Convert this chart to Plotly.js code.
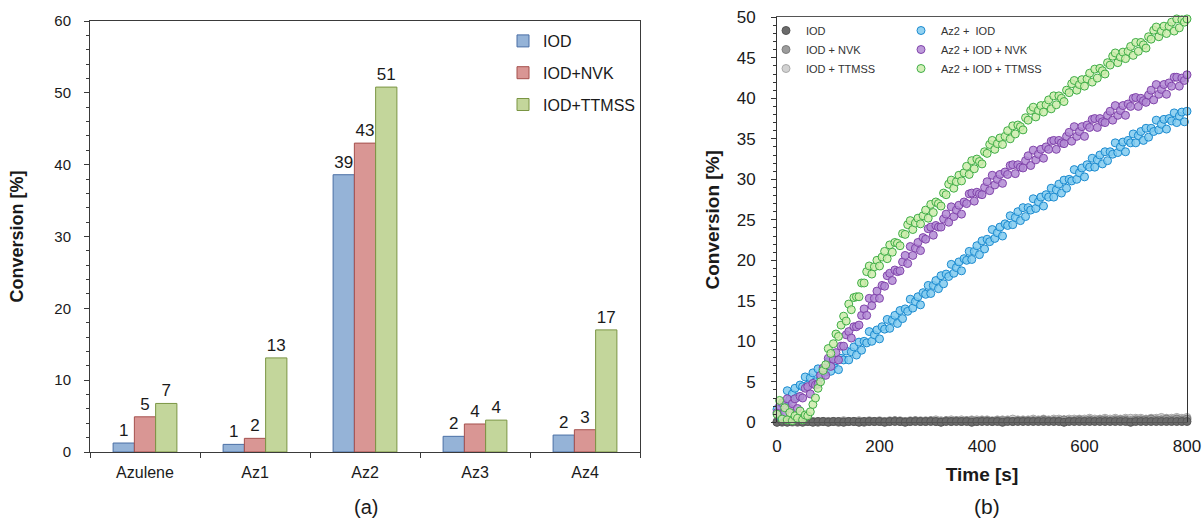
<!DOCTYPE html>
<html>
<head>
<meta charset="utf-8">
<script src="https://cdn.plot.ly/plotly-3.0.1.min.js"></script>
<style>
html,body{margin:0;padding:0;background:#ffffff;}
#chart{width:1204px;height:519px;}
</style>
</head>
<body>
<div id="chart"></div>
<script>
// ---------- (a) bar chart data ----------
const categories = ['Azulene', 'Az1', 'Az2', 'Az3', 'Az4'];
const barSeriesNames = ['IOD', 'IOD+NVK', 'IOD+TTMSS'];
const iodValues = [1.25, 1.06, 38.6, 2.18, 2.36];
const iodNvkValues = [4.9, 1.9, 43.0, 3.9, 3.1];
const iodTtmssValues = [6.76, 13.1, 50.8, 4.44, 17.0];

// ---------- (b) conversion vs time data ----------
const timeStart = 0;
const az2TimeStep = 5;   // s between points of Az2 series
const refTimeStep = 10;  // s between points of reference (no Az2) series
const scatterSeriesNames = ['IOD', 'IOD + NVK', 'IOD + TTMSS', 'Az2 +  IOD', 'Az2 + IOD + NVK', 'Az2 + IOD + TTMSS'];

const iodConv = [
  0.0,0.1,0.0,0.1,0.1,0.0,0.1,0.0,0.1,0.1,
  0.0,0.1,0.1,0.0,0.1,0.1,0.0,0.1,0.1,0.1,
  0.1,0.0,0.1,0.1,0.1,0.0,0.1,0.1,0.1,0.1,
  0.1,0.1,0.0,0.1,0.1,0.1,0.1,0.1,0.0,0.1,
  0.1,0.1,0.1,0.1,0.0,0.1,0.1,0.1,0.1,0.1,
  0.1,0.1,0.1,0.1,0.1,0.1,0.0,0.1,0.1,0.1,
  0.1,0.1,0.1,0.1,0.1,0.1,0.1,0.1,0.1,0.0,
  0.1,0.1,0.1,0.1,0.1,0.1,0.1,0.1,0.1,0.1,
  0.1
];
const iodNvkConv = [
  0.1,0.0,0.1,0.1,0.0,0.1,0.1,0.1,0.0,0.1,
  0.1,0.1,0.0,0.1,0.1,0.1,0.1,0.0,0.1,0.1,
  0.1,0.1,0.1,0.2,0.1,0.1,0.1,0.2,0.1,0.1,
  0.2,0.1,0.1,0.2,0.1,0.2,0.1,0.2,0.2,0.1,
  0.2,0.2,0.1,0.2,0.2,0.2,0.1,0.2,0.2,0.2,
  0.2,0.2,0.3,0.2,0.2,0.2,0.3,0.2,0.2,0.3,
  0.2,0.3,0.2,0.3,0.3,0.2,0.3,0.3,0.3,0.2,
  0.3,0.3,0.3,0.4,0.3,0.3,0.4,0.3,0.4,0.3,
  0.4
];
const iodTtmssConv = [
  0.0,0.1,0.1,0.0,0.1,0.1,0.1,0.1,0.1,0.1,
  0.1,0.1,0.1,0.2,0.1,0.1,0.2,0.1,0.2,0.1,
  0.2,0.1,0.2,0.2,0.2,0.1,0.2,0.2,0.2,0.2,
  0.2,0.3,0.2,0.2,0.3,0.2,0.3,0.2,0.3,0.3,
  0.3,0.3,0.2,0.3,0.3,0.3,0.4,0.3,0.3,0.3,
  0.4,0.3,0.4,0.3,0.4,0.4,0.3,0.4,0.4,0.4,
  0.4,0.5,0.4,0.4,0.5,0.4,0.5,0.4,0.5,0.5,
  0.5,0.5,0.4,0.5,0.5,0.6,0.5,0.5,0.6,0.5,
  0.6
];
const az2IodConv = [
  1.6,0.8,2.2,2.2,  3.9,2.8,3.5,4.2,  3.1,4.6,4.4,5.6,  4.6,5.5,6.1,5.0,
  6.6,5.5,6.5,6.2,  7.5,6.3,7.0,7.6,  6.5,7.9,7.7,8.8,  7.7,8.7,9.3,8.3,
  9.9,8.9,10.0,9.8, 11.2,10.0,10.8,11.4, 10.3,11.8,11.5,12.7, 11.6,12.6,13.2,12.2,
  13.8,12.8,14.0,13.7, 15.2,14.1,14.9,15.5, 14.5,16.0,15.8,16.9, 15.9,16.9,17.5,16.5,
  18.1,17.1,18.3,18.0, 19.5,18.4,19.1,19.8, 18.7,20.2,20.0,21.1, 20.1,21.1,21.8,20.7,
  22.4,21.4,22.6,22.3, 23.8,22.7,23.4,24.1, 23.0,24.5,24.3,25.5, 24.4,25.3,26.0,24.9,
  26.5,25.4,26.5,26.2, 27.6,26.4,27.2,27.8, 26.7,28.1,27.8,28.9, 27.8,28.7,29.4,28.3,
  29.9,28.9,30.0,29.8, 31.2,30.0,30.8,31.4, 30.3,31.8,31.5,32.6, 31.5,32.4,33.0,31.9,
  33.4,32.3,33.4,33.1, 34.5,33.3,34.0,34.6, 33.4,34.8,34.5,35.6, 34.5,35.4,35.9,34.8,
  36.3,35.2,36.3,35.9, 37.3,36.1,36.8,37.4, 36.2,37.5,37.2,38.2, 37.0,37.8,38.3,37.1,
  38.4
];
const az2IodNvkConv = [
  1.2,2.0,2.4,1.2,  2.9,1.7,2.3,2.9,  1.7,3.2,3.0,4.2,  4.4,3.5,4.8,4.6,
  4.7,5.8,6.7,5.8,  7.9,6.9,7.8,8.6,  7.7,9.4,9.4,10.8, 11.2,10.4,11.8,11.8,
  12.0,13.2,14.0,13.2, 15.3,14.4,15.3,16.2, 15.3,16.9,16.8,18.1, 18.4,17.5,18.8,18.6,
  18.7,19.8,20.6,19.6, 21.7,20.6,21.5,22.2, 21.2,22.8,22.6,23.9, 24.1,23.1,24.3,24.1,
  24.1,25.1,25.7,24.7, 26.6,25.4,26.2,26.8, 25.7,27.2,27.0,28.2, 28.3,27.3,28.4,28.2,
  28.1,29.0,29.7,28.6, 30.5,29.3,30.0,30.6, 29.5,30.9,30.6,31.7, 31.8,30.7,31.8,31.5,
  31.4,32.3,32.9,31.7, 33.6,32.4,33.1,33.7, 32.6,34.0,33.7,34.7, 34.8,33.7,34.8,34.5,
  34.4,35.3,35.8,34.7, 36.5,35.3,35.9,36.5, 35.3,36.7,36.4,37.4, 37.5,36.4,37.5,37.1,
  37.0,37.9,38.4,37.3, 39.1,37.9,38.5,39.1, 37.9,39.3,39.0,40.0, 40.1,39.0,40.0,39.7,
  39.5,40.4,41.0,39.8, 41.7,40.5,41.1,41.7, 40.5,41.9,41.5,42.6, 42.6,41.5,42.5,42.2,
  42.9
];
const az2IodTtmssConv = [
  1.0,2.7,0.4,1.8,  0.3,1.2,0.2,0.8,  0.5,1.4,0.3,0.9,  0.8,1.3,2.2,3.0,
  4.2,5.0,6.4,7.1,  9.1,8.5,9.7,10.9, 10.6,12.0,13.1,12.5, 14.6,13.9,15.4,15.5,
  15.5,17.2,17.2,18.6, 19.3,18.3,19.2,20.0, 19.3,20.4,21.1,20.2, 21.9,21.0,22.2,22.1,
  21.8,23.3,23.2,24.4, 24.9,23.8,24.6,25.2, 24.5,25.5,26.2,25.2, 26.9,25.9,27.2,27.0,
  26.7,28.3,28.1,29.4, 29.9,28.9,29.7,30.5, 29.8,30.8,31.6,30.6, 32.3,31.3,32.5,32.2,
  31.9,33.4,33.2,34.3, 34.8,33.7,34.4,35.1, 34.3,35.3,36.0,35.0, 36.6,35.6,36.7,36.5,
  36.1,37.6,37.3,38.5, 38.9,37.7,38.5,39.1, 38.3,39.2,39.8,38.7, 40.3,39.2,40.3,40.0,
  39.6,41.0,40.7,41.8, 42.2,41.0,41.7,42.3, 41.5,42.4,43.1,42.0, 43.6,42.5,43.7,43.4,
  43.0,44.4,44.1,45.2, 45.6,44.4,45.1,45.7, 44.9,45.8,46.4,45.3, 46.9,45.8,46.9,46.6,
  46.2,47.6,47.3,48.4, 48.8,47.6,48.3,48.9, 48.0,48.9,49.4,48.3, 49.8,48.7,49.7,49.4,
  49.8
];

// ---------- styling ----------
const FONT = 'Liberation Sans, Arial, Helvetica, sans-serif';
const W = 1204, H = 519;
const px = v => v / W;
const py = v => 1 - v / H;

const barFill = ['#95b3d7', '#d99694', '#c3d69b'];
const barLine = ['#4a6fa5', '#a5504d', '#7a9543'];
const barData = [iodValues, iodNvkValues, iodTtmssValues];

const traces = [];
barData.forEach((vals, i) => {
  traces.push({
    type: 'bar', x: categories, y: vals, name: barSeriesNames[i],
    xaxis: 'x', yaxis: 'y', legend: 'legend', legendgroup: 'b' + i,
    marker: {color: barFill[i], line: {color: barLine[i], width: 1}},
    texttemplate: '%{y:.0f}', textposition: 'outside', cliponaxis: false,
    constraintext: 'none',
    textfont: {size: 17, color: '#1a1a1a', family: FONT},
    hoverinfo: 'skip'
  });
});

// drawing order: light grey first so the dark IOD band sits on top; legend order set by legendrank
const scatterData = [
  {idx: 2, y: iodTtmssConv, dx: refTimeStep, fill: '#d2d2d2', line: '#a9a9a9', lg: 'legend2'},
  {idx: 1, y: iodNvkConv, dx: refTimeStep, fill: '#9c9c9c', line: '#7d7d7d', lg: 'legend2'},
  {idx: 0, y: iodConv, dx: refTimeStep, fill: '#6b6b6b', line: '#555555', lg: 'legend2'},
  {idx: 3, y: az2IodConv, dx: az2TimeStep, fill: 'rgba(128,202,238,0.85)', line: '#1b8bd0', lg: 'legend3'},
  {idx: 4, y: az2IodNvkConv, dx: az2TimeStep, fill: 'rgba(178,138,212,0.85)', line: '#8144ab', lg: 'legend3'},
  {idx: 5, y: az2IodTtmssConv, dx: az2TimeStep, fill: 'rgba(205,236,172,0.85)', line: '#3fae47', lg: 'legend3'}
];
scatterData.forEach((s) => {
  traces.push({
    type: 'scatter', mode: 'markers', name: scatterSeriesNames[s.idx],
    legendrank: s.idx + 1,
    x0: timeStart, dx: s.dx, y: s.y,
    xaxis: 'x2', yaxis: 'y2', legend: s.lg, cliponaxis: false,
    marker: {size: 8, color: s.fill, line: {color: s.line, width: 1}},
    hoverinfo: 'skip'
  });
});

const axisColor = '#3a3a3a';
const layout = {
  width: W, height: H,
  margin: {l: 0, r: 0, t: 0, b: 0},
  paper_bgcolor: '#ffffff', plot_bgcolor: '#ffffff',
  font: {family: FONT, color: '#1a1a1a'},
  barmode: 'group', bargap: 0.42, bargroupgap: 0,
  showlegend: true,
  xaxis: {
    domain: [px(90), px(640)], anchor: 'y', type: 'category',
    tickson: 'boundaries', ticks: 'outside', ticklen: 5, tickcolor: axisColor,
    showline: true, linecolor: axisColor, linewidth: 1, mirror: true,
    showgrid: false, zeroline: false, tickfont: {size: 16, color: '#1a1a1a'},
    ticklabelstandoff: 6,
    fixedrange: true
  },
  yaxis: {
    domain: [1 - 452 / H, 1 - 21 / H], anchor: 'x', range: [0, 60], dtick: 10,
    ticks: 'outside', ticklen: 5, tickcolor: axisColor,
    showline: true, linecolor: axisColor, linewidth: 1, mirror: true,
    showgrid: false, zeroline: false, tickfont: {size: 15, color: '#1a1a1a'},
    ticklabelstandoff: 10,
    minor: {ticks: 'outside', dtick: 2, ticklen: 3, tickcolor: axisColor, showgrid: false},
    title: {text: '<b>Conversion [%]</b>', font: {size: 18, color: '#1a1a1a'}, standoff: 26},
    fixedrange: true
  },
  xaxis2: {
    domain: [px(777), px(1187)], anchor: 'y2', range: [0, 800], dtick: 200,
    ticks: '', showline: true, linecolor: '#555555', linewidth: 1, mirror: true,
    showgrid: false, zeroline: false, tickfont: {size: 17, color: '#1a1a1a'},
    ticklabelstandoff: 8,
    title: {text: '<b>Time [s]</b>', font: {size: 19, color: '#1a1a1a'}, standoff: 12},
    fixedrange: true
  },
  yaxis2: {
    domain: [1 - 422.3 / H, 1 - 17.3 / H], anchor: 'x2', range: [0, 50], dtick: 5,
    ticks: 'outside', ticklen: 5, tickcolor: '#333333',
    showline: true, linecolor: '#333333', linewidth: 1, mirror: true,
    showgrid: false, zeroline: false, tickfont: {size: 17, color: '#1a1a1a'},
    ticklabelstandoff: 12,
    minor: {ticks: 'outside', dtick: 1, ticklen: 3, tickcolor: '#333333', showgrid: false},
    title: {text: '<b>Conversion [%]</b>', font: {size: 19, color: '#1a1a1a'}, standoff: 12},
    fixedrange: true
  },
  legend: {
    x: px(503), y: py(24), xanchor: 'left', yanchor: 'top',
    bgcolor: 'rgba(0,0,0,0)', borderwidth: 0,
    font: {size: 16, color: '#1a1a1a'}, traceorder: 'grouped', tracegroupgap: 8,
    itemwidth: 30
  },
  legend2: {
    x: px(766), y: py(16), xanchor: 'left', yanchor: 'top',
    bgcolor: 'rgba(0,0,0,0)', borderwidth: 0,
    font: {size: 11, color: '#333333'}, itemwidth: 30, tracegroupgap: 0
  },
  legend3: {
    x: px(901), y: py(16), xanchor: 'left', yanchor: 'top',
    bgcolor: 'rgba(0,0,0,0)', borderwidth: 0,
    font: {size: 11, color: '#333333'}, itemwidth: 30, tracegroupgap: 0
  },
  annotations: [
    {text: '(a)', x: px(366), y: py(507), xref: 'paper', yref: 'paper',
     xanchor: 'center', yanchor: 'middle', showarrow: false, font: {size: 20, color: '#1a1a1a'}},
    {text: '(b)', x: px(987), y: py(506), xref: 'paper', yref: 'paper',
     xanchor: 'center', yanchor: 'middle', showarrow: false, font: {size: 21, color: '#1a1a1a'}}
  ]
};

Plotly.newPlot('chart', traces, layout, {displayModeBar: false, staticPlot: true});
</script>
</body>
</html>
